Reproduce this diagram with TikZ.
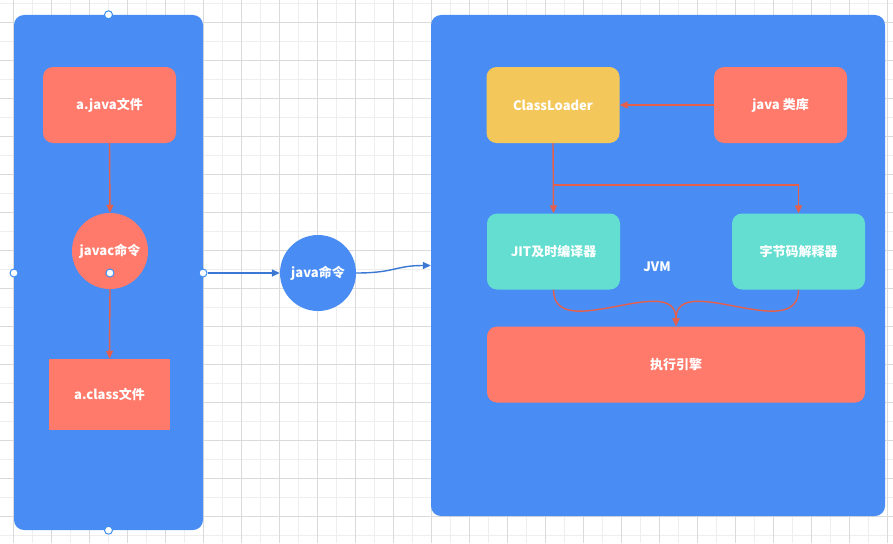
\documentclass[tikz,border=0pt]{standalone}
\usepackage{fontspec}
\setmainfont{Noto Sans CJK SC}
\usepackage{tikz}
\usetikzlibrary{arrows.meta, positioning, calc}
\definecolor{panelblue}{RGB}{73,141,244}
\definecolor{salmon}{RGB}{255,122,107}
\definecolor{loaderyellow}{RGB}{244,199,90}
\definecolor{enginteal}{RGB}{100,222,208}
\definecolor{flowred}{RGB}{228,96,76}
\definecolor{linkblue}{RGB}{58,120,212}
\definecolor{handleblue}{RGB}{61,142,240}
\definecolor{gridlight}{RGB}{238,238,238}
\definecolor{griddark}{RGB}{218,218,218}
\tikzset{
  panel/.style={rectangle, rounded corners=10pt, fill=panelblue, draw=none, inner sep=0pt},
  lbl/.style={text=white, font=\fontsize{13}{15}\selectfont\bfseries, align=center},
  filebox/.style={rectangle, rounded corners=10pt, fill=salmon, lbl, inner sep=0pt,
    minimum width=133pt, minimum height=76pt},
  classbox/.style={rectangle, fill=salmon, lbl, inner sep=0pt,
    minimum width=121pt, minimum height=71pt},
  cmd/.style={circle, lbl, inner sep=0pt, minimum size=76pt},
  loaderbox/.style={filebox, fill=loaderyellow},
  execbox/.style={filebox, fill=enginteal},
  handle/.style={circle, draw=handleblue, fill=white, line width=1pt, inner sep=0pt,
    minimum size=8pt},
  ra/.style={-{Triangle[length=8pt, width=7pt]}, line width=1.4pt, color=flowred},
  ba/.style={-{Triangle[length=8pt, width=7pt]}, line width=1.4pt, color=linkblue},
}

\begin{document}
\begin{tikzpicture}[x=1pt, y=-1pt]
\useasboundingbox (0,0) rectangle (893,543);
\fill[white] (0,0) rectangle (893,543);
\foreach \i in {0,...,47} {
  \draw[gridlight, line width=1pt] ({-5.7+19*\i},0) -- ++(0,543);
}
\foreach \i in {0,...,29} {
  \draw[gridlight, line width=1pt] (0,{3.3+19*\i}) -- ++(893,0);
}
\foreach \i in {0,...,23} {
  \draw[griddark, line width=1pt] ({13.3+38*\i},0) -- ++(0,543);
}
\foreach \i in {0,...,14} {
  \draw[griddark, line width=1pt] (0,{22.3+38*\i}) -- ++(893,0);
}

\node[panel, minimum width=189pt, minimum height=515pt] (src) at (108.5,272.5) {};
\node[panel, minimum width=454pt, minimum height=501pt] (jvm) at (658,265.5) {};

\node[filebox] (ajava) at (109.5,105) {a.java文件};
\node[cmd, fill=salmon] (javac) at (110,251) {javac命令};
\node[classbox] (aclass) at (109.5,394.5) {a.class文件};
\node[cmd, fill=panelblue] (java) at (318,273) {java命令};

\node[loaderbox] (loader) at (553,105) {ClassLoader};
\node[filebox] (lib) at (780.5,105) {java 类库};
\node[execbox] (jit) at (553.5,251.5) {JIT及时编译器};
\node[execbox] (bci) at (798.5,251.5) {字节码解释器};
\node[filebox, minimum width=378pt] (engine) at (676,364.5) {执行引擎};
\node[lbl] (jvmlabel) at (657,267) {JVM};

\draw[ra] (ajava.south) -- (javac.north);
\draw[ra] (javac.south) -- (aclass.north);

\node[handle] (hN) at (src.north) {};
\node[handle] (hW) at (14,273) {};
\node[handle] (hE) at (203,273) {};
\node[handle] (hS) at (src.south) {};
\node[handle] (hC) at (110,273) {};

\draw[ba] (hE) -- (java.west);
\draw[ba] (java.east) .. controls (395,273) and (395,265.5) .. (jvm.west);

\draw[ra] (lib.west) -- (loader.east);
\coordinate (split) at (553,185);
\draw[ra] (loader.south) -- (jit.north);
\draw[ra] (split) -| (bci.north);
\draw[ra] (jit.south) .. controls (553.5,345) and (676,270) .. (engine.north);
\draw[ra] (bci.south) .. controls (798.5,345) and (676,270) .. (engine.north);
\end{tikzpicture}
\end{document}
